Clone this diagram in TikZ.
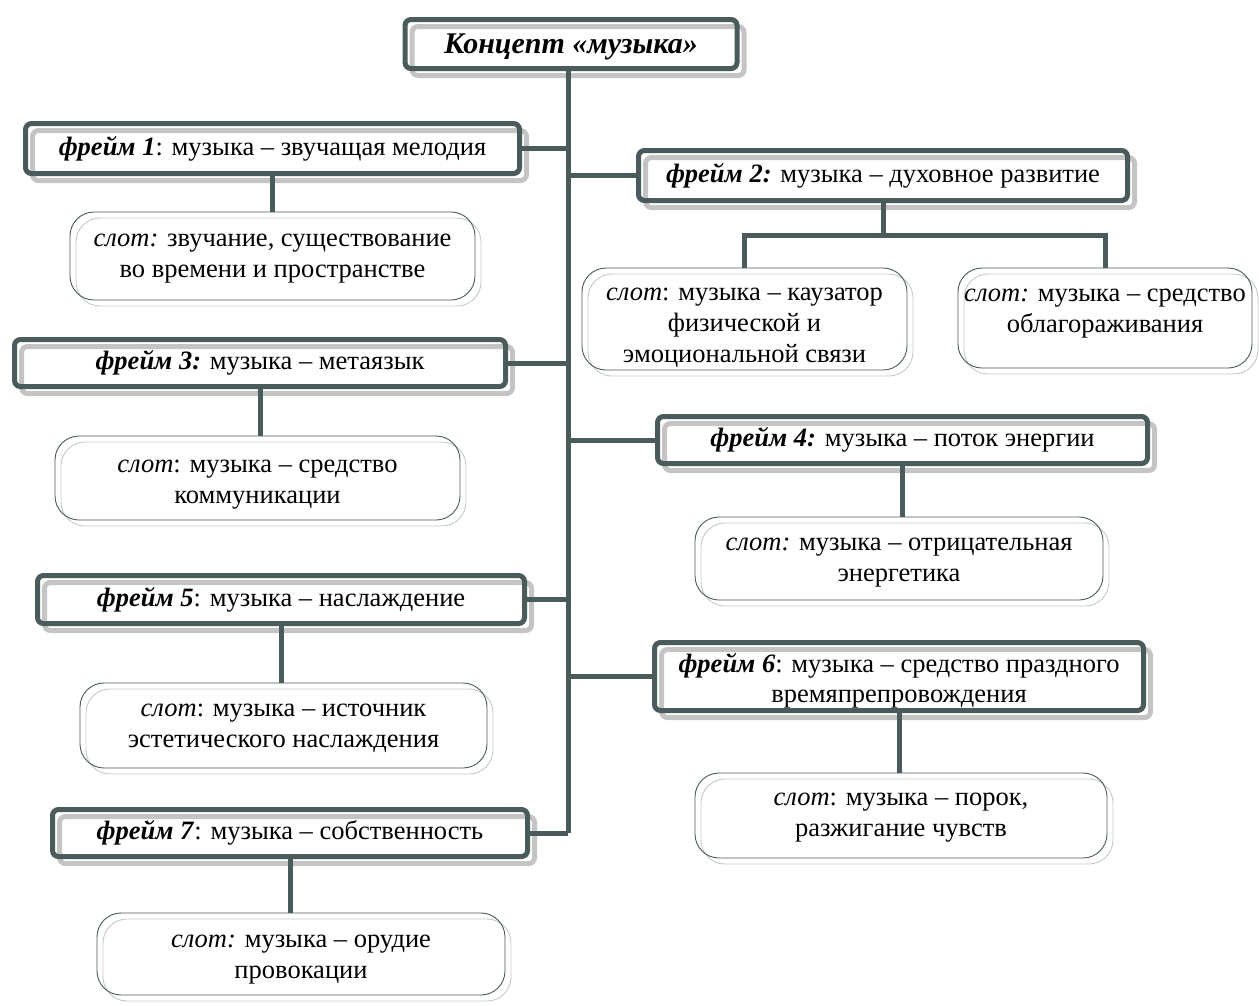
\documentclass[tikz,border=0pt]{standalone}
\usepackage{fontspec}
\setmainfont{Liberation Serif}
\usetikzlibrary{shadows}
\definecolor{dark}{HTML}{4B5A5A}
\definecolor{shade}{HTML}{C4C4C4}
\definecolor{slotshade}{HTML}{C8C8C8}
\tikzset{
  framebox/.style={draw=dark, line width=5pt, rounded corners=6pt, inner sep=0pt, align=center,
    font=\fontsize{26.5}{30}\selectfont,
    general shadow={shadow xshift=7pt, shadow yshift=-7pt, draw=shade, line width=5pt, fill=none}},
  slotbox/.style={draw=dark, line width=0.9pt, rounded corners=24pt, inner sep=0pt,
    general shadow={shadow xshift=6pt, shadow yshift=-6pt, draw=slotshade, line width=0.9pt, fill=none}},
  slottext/.style={align=center, inner sep=0pt, font=\fontsize{26.5}{31}\selectfont},
  link/.style={draw=dark, line width=5pt}
}
\newcommand{\fr}[1]{\textbf{\textit{#1}}}
\begin{document}
\begin{tikzpicture}[x=1pt,y=-1pt]
\useasboundingbox (0,0) rectangle (1259,1005);
% top
\node[framebox, minimum width=332pt, minimum height=49pt, font=\fontsize{30}{34}\selectfont] (top) at (571,44) {};
\node[slottext, font=\fontsize{30}{34}\selectfont] (toptext) at ([yshift=-3pt]top.center) {\fr{Концепт «музыка»}};
% frames
\node[framebox, minimum width=494pt, minimum height=50pt] (f1) at (272.5,148.5) {\fr{фрейм 1}: музыка – звучащая мелодия};
\node[framebox, minimum width=489pt, minimum height=50pt] (f2) at (883,175.5) {\fr{фрейм 2:} музыка – духовное развитие};
\node[framebox, minimum width=491pt, minimum height=47pt] (f3) at (260,363) {\fr{фрейм 3:} музыка – метаязык};
\node[framebox, minimum width=490pt, minimum height=47pt] (f4) at (902.5,440) {\fr{фрейм 4:} музыка – поток энергии};
\node[framebox, minimum width=487pt, minimum height=48pt] (f5) at (281,599.5) {\fr{фрейм 5}: музыка – наслаждение};
\node[framebox, minimum width=489pt, minimum height=68pt] (f6) at (899,676.5) {};
\node[slottext, font=\fontsize{26.5}{30}\selectfont] (f6text) at ([yshift=-4pt]f6.center) {\fr{фрейм 6}: музыка – средство праздного\\времяпрепровождения};
\node[framebox, minimum width=475pt, minimum height=47pt] (f7) at (290,833) {\fr{фрейм 7}: музыка – собственность};
% slots
\node[slotbox, minimum width=405pt, minimum height=88pt] (s1) at (272.5,256) {};
\node[slottext] (s1text) at ([yshift=-3pt]s1.center) {\textit{слот:} звучание, существование\\во времени и пространстве};
\node[slotbox, minimum width=325pt, minimum height=102pt] (s2a) at (744.5,319) {};
\node[slottext] (s2atext) at ([yshift=-9pt]s2a.center) {\textit{слот}: музыка – каузатор\\физической и\\эмоциональной связи};
\node[slotbox, minimum width=294pt, minimum height=100pt] (s2b) at (1105,318) {};
\node[slottext] (s2btext) at (1105,314) {\textit{слот:} музыка – средство\\облагораживания};
\node[slotbox, minimum width=405pt, minimum height=84pt] (s3) at (257.5,478) {};
\node[slottext] (s3text) at ([yshift=-7pt]s3.center) {\textit{слот}: музыка – средство\\коммуникации};
\node[slotbox, minimum width=408pt, minimum height=83pt] (s4) at (899,558.5) {};
\node[slottext] (s4text) at ([yshift=-4pt]s4.center) {\textit{слот:} музыка – отрицательная\\энергетика};
\node[slotbox, minimum width=407pt, minimum height=85pt] (s5) at (283.5,725.5) {};
\node[slottext] (s5text) at ([yshift=-3pt]s5.center) {\textit{слот}: музыка – источник\\эстетического наслаждения};
\node[slotbox, minimum width=412pt, minimum height=85pt] (s6) at (901,815.5) {};
\node[slottext] (s6text) at ([yshift=-2pt]s6.center) {\textit{слот}: музыка – порок,\\разжигание чувств};
\node[slotbox, minimum width=408pt, minimum height=82pt] (s7) at (301,954) {};
\node[slottext] (s7text) at ([yshift=-6pt]s7.center) {\textit{слот:} музыка – орудие\\провокации};
% trunk
\coordinate (tx) at (568,0);
\coordinate (tend) at (tx |- f7.east);
\draw[link] (tx |- top.south) -- (tend);
\draw[link] (f1.east) -- (f1.east -| tx);
\draw[link] (f2.west) -- (f2.west -| tx);
\draw[link] (f3.east) -- (f3.east -| tx);
\draw[link] (f4.west) -- (f4.west -| tx);
\draw[link] (f5.east) -- (f5.east -| tx);
\draw[link] (f6.west) -- (f6.west -| tx);
\draw[link] (f7.east) -- (tend);
% frame to slot
\draw[link] (f1.south) -- (s1.north);
\coordinate (b2) at (883,235);
\draw[link] (f2.south) -- (b2);
\draw[link] (s2a.north) |- (b2) -| (s2b.north);
\draw[link] (f3.south) -- (f3.south |- s3.north);
\draw[link] (f4.south) -- (f4.south |- s4.north);
\draw[link] (f5.south) -- (f5.south |- s5.north);
\draw[link] (f6.south) -- (f6.south |- s6.north);
\draw[link] (f7.south) -- (f7.south |- s7.north);
\end{tikzpicture}
\end{document}
